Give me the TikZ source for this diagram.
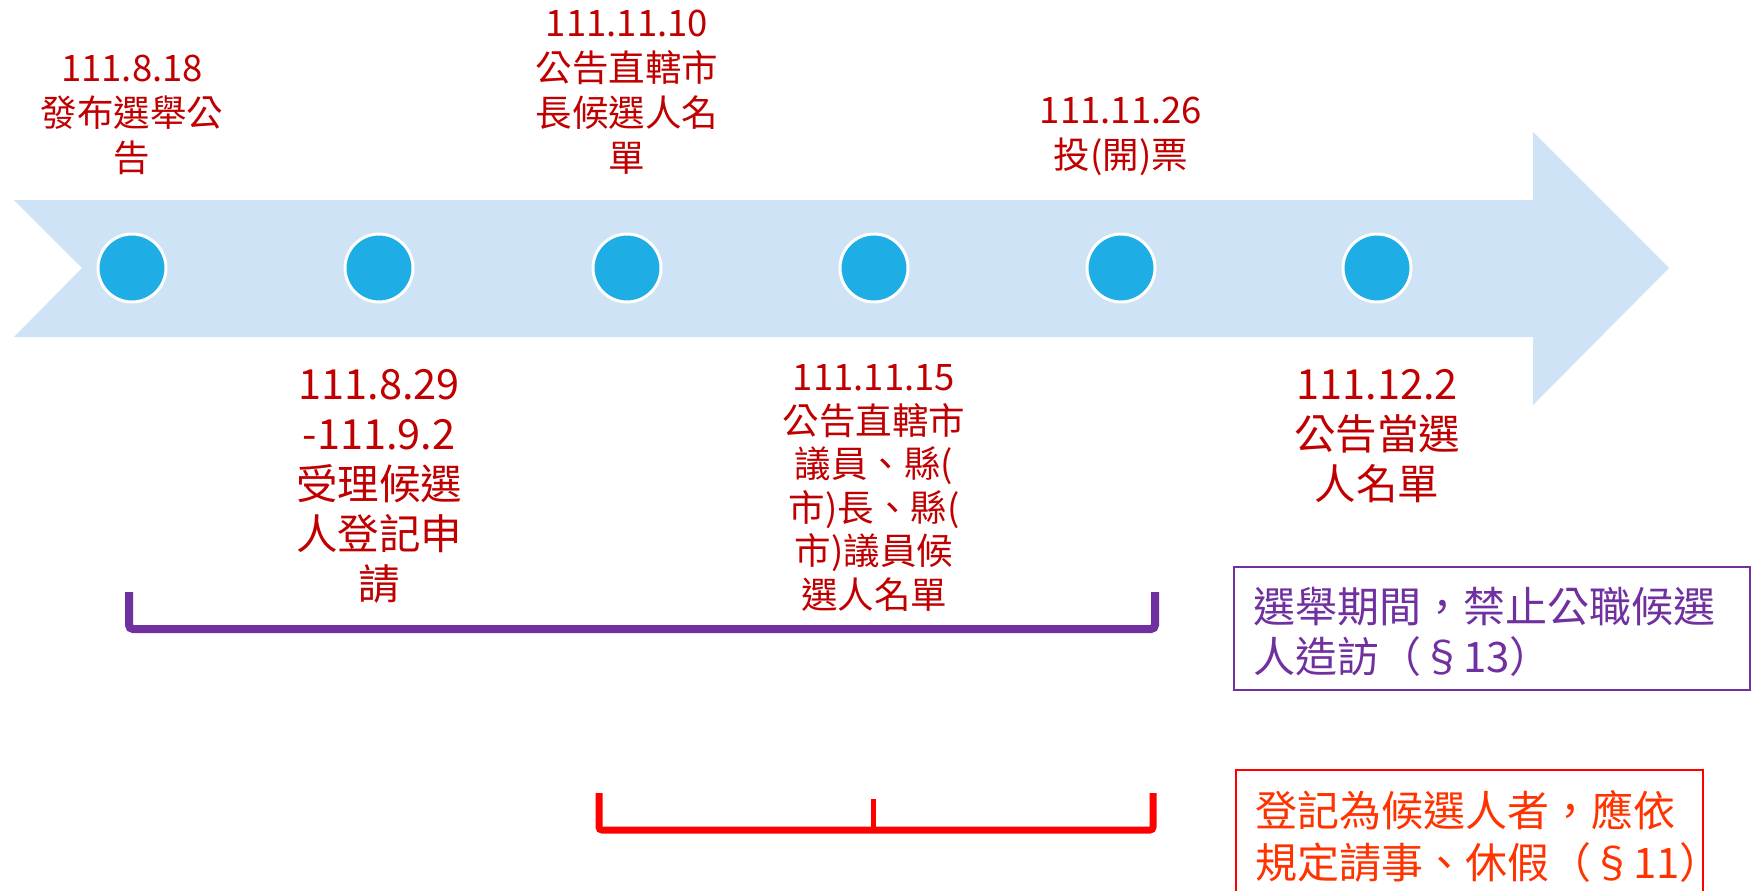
\documentclass[tikz,border=0pt]{standalone}
\usepackage{fontspec}
\setmainfont{Noto Sans CJK TC}
\definecolor{arrowblue}{RGB}{206,227,245}
\definecolor{dotblue}{RGB}{30,173,228}
\definecolor{darkred}{RGB}{192,0,0}
\definecolor{vpurple}{RGB}{112,48,160}
\definecolor{bred}{RGB}{255,0,0}
\definecolor{tred}{RGB}{255,51,0}
\tikzset{
  dot/.style={circle,fill=dotblue,draw=white,line width=3pt,minimum size=68pt,inner sep=0pt},
  lblS/.style={text=darkred,align=center,inner sep=0pt,font=\fontsize{36.5}{45}\selectfont},
  lblM/.style={text=darkred,align=center,inner sep=0pt,font=\fontsize{36.5}{43.5}\selectfont},
  lblL/.style={text=darkred,align=center,inner sep=0pt,font=\fontsize{41.5}{50}\selectfont},
  purpbr/.style={draw=vpurple,line width=8pt,rounded corners=4pt},
  redbr/.style={draw=bred,line width=7pt,rounded corners=3pt},
}
\begin{document}
\begin{tikzpicture}[x=1pt,y=-1pt]
\useasboundingbox (0,0) rectangle (1758,891);
% arrow
\fill[arrowblue] (14,200) -- (1533,200) -- (1533,132) -- (1669,268) -- (1533,405) -- (1533,337) -- (14,337) -- (82,268) -- cycle;
% dots
\node[dot] (c1) at (132,268) {};
\node[dot] (c2) at (379,268) {};
\node[dot] (c3) at (627,268) {};
\node[dot] (c4) at (874,268) {};
\node[dot] (c5) at (1121,268) {};
\node[dot] (c6) at (1377,268) {};
% top labels
\node[lblS] (t1) at (132,115) {111.8.18\\發布選舉公\\告};
\node[lblS] (t3) at (627,92) {111.11.10\\公告直轄市\\長候選人名\\單};
\node[lblS] (t5) at (1121,136) {111.11.26\\投(開)票};
% bottom labels
\node[lblL] (b2) at (379,486) {111.8.29\\-111.9.2\\受理候選\\人登記申\\請};
\node[lblM] (b4) at (874,488) {111.11.15\\公告直轄市\\議員、縣(\\市)長、縣(\\市)議員候\\選人名單};
\node[lblL] (b6) at (1377,436) {111.12.2\\公告當選\\人名單};
% purple bracket
\coordinate (p1) at (129,592);
\coordinate (p2) at (1155,592);
\draw[purpbr] (p1) |- ([yshift=-37pt]p2) -- (p2);
% red bracket
\coordinate (r1) at (599,793);
\coordinate (r2) at (1153,793);
\coordinate (rm) at (873.5,799);
\draw[redbr] (r1) |- ([yshift=-37pt]r2) -- (r2);
\draw[draw=bred,line width=5pt] (rm) -- (873.5,830);
% purple box
\draw[vpurple,line width=2pt] (1234,567) rectangle (1750,690);
\node[text=vpurple,anchor=west,align=left,inner sep=0pt,font=\fontsize{42}{50}\selectfont] (pb) at (1253,632) {選舉期間，禁止公職候選\\人造訪（§13）};
% red box
\draw[bred,line width=1.5pt] (1236,900) -- (1236,770) -- (1703,770) -- (1703,900);
\node[text=tred,anchor=west,align=left,inner sep=0pt,font=\fontsize{42}{52}\selectfont] (rb) at (1255,836) {登記為候選人者，應依\\規定請事、休假（§11）};
\end{tikzpicture}
\end{document}
